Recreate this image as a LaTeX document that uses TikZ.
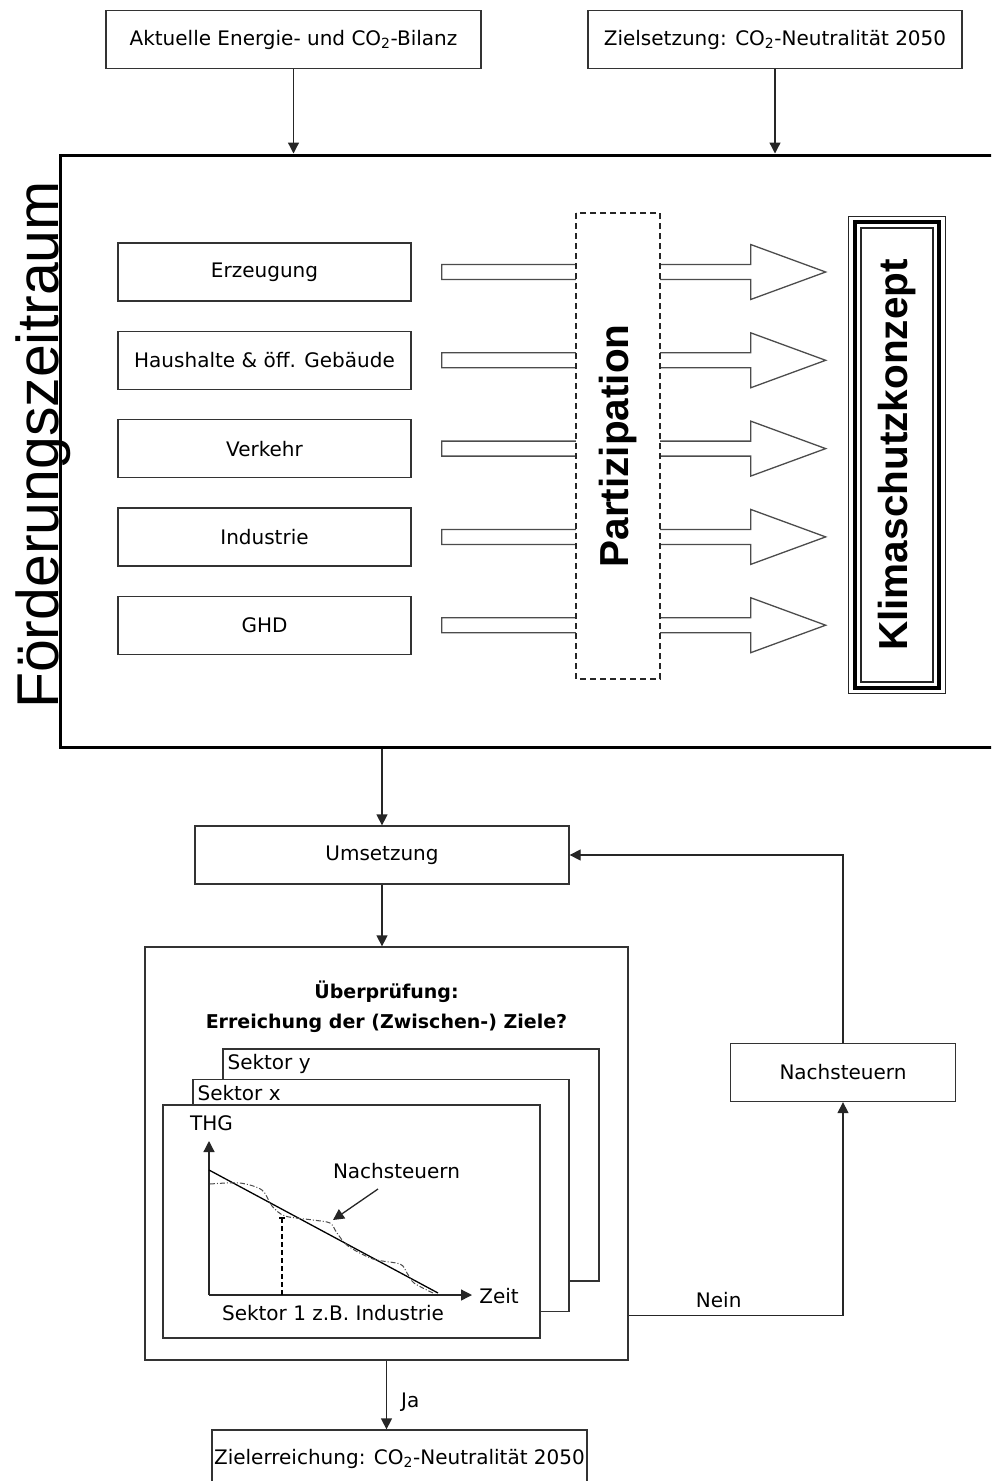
\documentclass[tikz,border=0pt]{standalone}
\usepackage{fontspec}
\setmainfont{DejaVu Sans}
\newfontfamily\bigsans{Liberation Sans}
\usetikzlibrary{positioning, arrows.meta, calc}

\begin{document}
\begin{tikzpicture}[
    x=1pt, y=-1pt,
    node distance=29pt,
    box/.style={rectangle, draw=black!80, line width=1.3pt, minimum height=58pt, align=center, inner sep=2pt, font=\fontsize{20pt}{24pt}\selectfont},
    sector/.style={box, minimum width=293pt},
    card/.style={rectangle, draw=black!80, line width=1.3pt, fill=white, minimum width=376pt, minimum height=232pt},
    conn/.style={line width=1.3pt, draw=black!85, -{Triangle[length=11pt,width=11pt]}},
    hollow/.style={line width=1.3pt, draw=black!70, fill=white},
    bigbold/.style={font=\bigsans\bfseries\fontsize{40.5pt}{42pt}\selectfont},
    lbl/.style={inner sep=0pt, font=\fontsize{20pt}{24pt}\selectfont}
]
    \useasboundingbox (0,0) rectangle (991,1481);
    \clip (0,0) rectangle (991,1481);

    % Inputs on top
    \node[box, minimum width=375pt] (bilanz) at (293.5,39.5) {Aktuelle Energie- und CO\textsubscript{2}-Bilanz};
    \node[box, minimum width=374pt] (zielsetz) at (775,39.5) {Zielsetzung: CO\textsubscript{2}-Neutralität 2050};

    % Funding period frame
    \node[draw=black, line width=3pt, minimum width=950pt, minimum height=592pt] (frame) at (535,451) {};
    \node[rotate=90, anchor=base, inner sep=0pt, font=\bigsans\fontsize{59pt}{60pt}\selectfont] (zeitraum) at (58,445) {Förderungszeitraum};

    \draw[conn] (bilanz.south) -- (bilanz.south |- frame.north);
    \draw[conn] (zielsetz.south) -- (zielsetz.south |- frame.north);

    % Sectors
    \node[sector] (erz) at (264.5,272) {Erzeugung};
    \node[sector, below=of erz] (hh) {Haushalte \& öff. Gebäude};
    \node[sector, below=of hh] (vk) {Verkehr};
    \node[sector, below=of vk] (ind) {Industrie};
    \node[sector, below=of ind] (ghd) {GHD};

    % Block arrows through participation
    \foreach \s in {erz,hh,vk,ind,ghd}
        \draw[hollow] ($(\s.east)+(30,-7.5)$) -- ++(309,0) -- ++(0,-20) -- ++(75,27.5)
            -- ++(-75,27.5) -- ++(0,-20) -- ++(-309,0) -- cycle;

    \node[draw=black!85, dash pattern=on 6pt off 4pt, line width=1.3pt, fill=white, rotate=90,
        minimum width=466pt, minimum height=84pt, bigbold] (part) at (618,446) {Partizipation};

    % Climate protection concept (triple border)
    \node[draw=black, line width=3.5pt, rotate=90, minimum width=466pt, minimum height=84pt, bigbold] (kk) at (897,455) {Klimaschutzkonzept};
    \draw[line width=1.3pt, black!85] ($(kk.center)+(-48.5,-238.5)$) rectangle ($(kk.center)+(48.5,238.5)$);
    \draw[line width=1.3pt, black!85] ($(kk.center)+(-36,-227)$) rectangle ($(kk.center)+(36,227)$);

    % Implementation and review
    \node[box, minimum width=374pt] (ums) at (382,855) {Umsetzung};
    \node[rectangle, draw=black!80, line width=1.3pt, minimum width=483pt, minimum height=413pt] (ueb) at (386.5,1153.5) {};
    \node[align=center, font=\bfseries\fontsize{19pt}{30pt}\selectfont] (frage) at (386.5,1007) {Überprüfung:\\Erreichung der (Zwischen-) Ziele?};

    \draw[conn] (ums.north |- frame.south) -- (ums.north);
    \draw[conn] (ums.south) -- (ums.south |- ueb.north);

    % Sector cards
    \node[card] (sky) at (411,1165) {};
    \node[lbl, anchor=north west] at ($(sky.north west)+(5,6)$) {Sektor y};
    \node[card] (skx) at (381,1195.5) {};
    \node[lbl, anchor=north west] at ($(skx.north west)+(5,6)$) {Sektor x};
    \node[card, minimum width=377pt, minimum height=233pt] (sk1) at (351.5,1221.5) {};

    % Small chart
    \coordinate (o) at (209,1295);
    \draw[conn] (o) -- (209,1141);
    \draw[conn] (o) -- (472,1295);
    \node[lbl] (thg) at (211.5,1123.5) {THG};
    \node[lbl] (zeit) at (499,1296.5) {Zeit};
    \node[lbl] (sk1lbl) at (333,1313.5) {Sektor 1 z.B. Industrie};
    \draw[line width=1.3pt] (209,1170) -- (438,1293);
    \draw[line width=1pt, black!70, dash pattern=on 5pt off 2pt on 1pt off 2pt] plot[smooth] coordinates
        {(210,1184) (240,1183) (262,1190) (272,1206) (285,1216) (313,1220) (330,1223) (337,1233)
         (348,1246) (373,1259) (400,1264) (407,1273) (414,1283) (433,1293)};
    \draw[line width=1.2pt, dash pattern=on 5pt off 3pt] (282,1218) -- (282,1295);
    \draw[line width=1.2pt] (279,1218) -- (285,1218);
    \node[lbl] (nachlbl) at (396.5,1171.5) {Nachsteuern};
    \draw[conn] (378,1189) -- (333,1220);

    % Feedback loop
    \node[box, minimum width=225pt] (nach) at (843,1072.5) {Nachsteuern};
    \draw[conn] ([yshift=45pt]ueb.south east) -| node[pos=0.21, above, lbl, yshift=7pt] {Nein} (nach.south);
    \draw[conn] (nach.north) |- (ums.east);

    % Goal
    \node[box, minimum width=375pt] (zielerr) at (399.5,1459) {Zielerreichung: CO\textsubscript{2}-Neutralität 2050};
    \draw[conn] (ueb.south) -- node[pos=0.6, right, lbl, xshift=14pt] {Ja} (ueb.south |- zielerr.north);

\end{tikzpicture}
\end{document}
